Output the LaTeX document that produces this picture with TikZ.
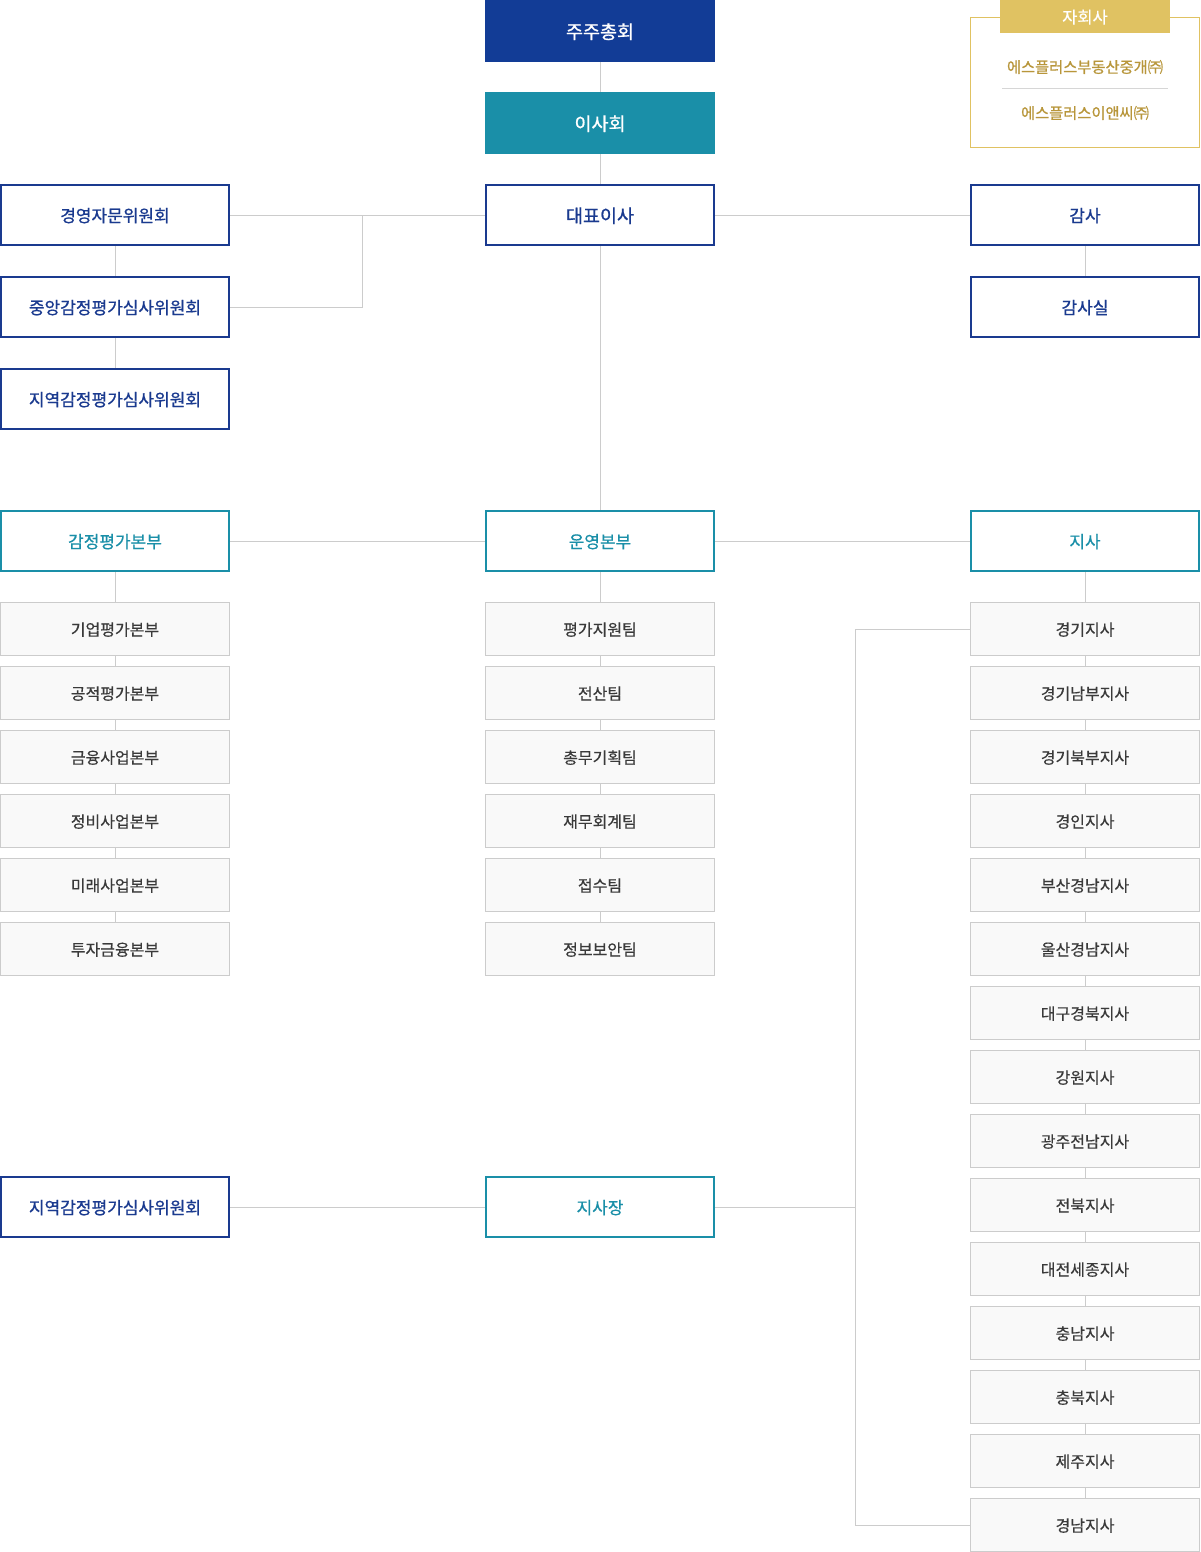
\documentclass[tikz,border=0pt]{standalone}
\usepackage{fontspec}
\setmainfont{Noto Sans CJK KR}
\newfontfamily\krA[FakeBold=0.9]{Noto Sans CJK KR}
\newfontfamily\krB[FakeBold=0.5]{Noto Sans CJK KR}
\usetikzlibrary{backgrounds}
\definecolor{navy}{HTML}{123C96}
\definecolor{bluetx}{HTML}{1A3A8F}
\definecolor{teal}{HTML}{1A8FA8}
\definecolor{gold}{HTML}{E0C262}
\definecolor{goldtx}{HTML}{B8963A}
\definecolor{lgray}{HTML}{CCCCCC}
\definecolor{subfill}{HTML}{F9F9F9}
\definecolor{subtx}{HTML}{3A3A3A}
\tikzset{
  base/.style={rectangle,inner sep=0pt,minimum width=228pt,minimum height=60pt,align=center,text depth=0pt},
  topfill/.style={base,minimum width=230pt,minimum height=62pt,text=white,font=\krA\fontsize{18.5}{20}\selectfont},
  bluebox/.style={base,draw=bluetx,line width=2pt,fill=white,text=bluetx,font=\krA\fontsize{17}{19}\selectfont},
  tealbox/.style={base,draw=teal,line width=2pt,fill=white,text=teal,font=\krB\fontsize{17}{19}\selectfont},
  subbox/.style={rectangle,inner sep=0pt,minimum width=229pt,minimum height=53pt,draw=lgray,line width=1pt,fill=subfill,text=subtx,text depth=0pt,font=\krB\fontsize{16}{18}\selectfont},
  goldtxt/.style={text=goldtx,font=\krA\fontsize{15.3}{17}\selectfont,inner sep=0pt},
  ln/.style={draw=lgray,line width=1pt},
}
\begin{document}
\begin{tikzpicture}[x=1pt,y=-1pt]
\useasboundingbox (0,0) rectangle (1200,1552);

% top column
\node[topfill,fill=navy] (gm) at (600,31) {주주총회};
\node[topfill,fill=teal] (bd) at (600,123) {이사회};
\node[bluebox,font=\krA\fontsize{18.5}{20}\selectfont] (ceo) at (600,215) {대표이사};

% left committees
\node[bluebox] (adv) at (115,215) {경영자문위원회};
\node[bluebox] (cen) at (115,307) {중앙감정평가심사위원회};
\node[bluebox] (reg) at (115,399) {지역감정평가심사위원회};
\coordinate (j1) at (362,215);

% audit
\node[bluebox] (aud) at (1085,215) {감사};
\node[bluebox] (audr) at (1085,307) {감사실};

% subsidiaries
\draw[draw=gold,line width=1pt] (970.5,17.5) rectangle (1199.5,147.5);
\node[rectangle,fill=gold,minimum width=170pt,minimum height=33pt,inner sep=0pt,text depth=0pt,text=white,font=\krB\fontsize{16.5}{18}\selectfont] (subh) at (1085,16.5) {자회사};
\node[goldtxt] (s1) at (1085,67) {에스플러스부동산중개㈜};
\node[goldtxt] (s2) at (1085,113) {에스플러스이앤씨㈜};
\coordinate (d1) at (1002,88.5);
\coordinate (d2) at (1168,88.5);
\draw[draw=lgray!80,line width=1pt] (d1) -- (d2);

% divisions
\node[tealbox] (ev) at (115,541) {감정평가본부};
\node[tealbox] (op) at (600,541) {운영본부};
\node[tealbox] (br) at (1085,541) {지사};

% left sub boxes
\foreach \t [count=\i] in {기업평가본부,공적평가본부,금융사업본부,정비사업본부,미래사업본부,투자금융본부}
  \node[subbox] (l\i) at (115,{629+64*(\i-1)}) {\t};
% middle sub boxes
\foreach \t [count=\i] in {평가지원팀,전산팀,총무기획팀,재무회계팀,접수팀,정보보안팀}
  \node[subbox] (m\i) at (600,{629+64*(\i-1)}) {\t};
% right sub boxes
\foreach \t [count=\i] in {경기지사,경기남부지사,경기북부지사,경인지사,부산경남지사,울산경남지사,대구경북지사,강원지사,광주전남지사,전북지사,대전세종지사,충남지사,충북지사,제주지사,경남지사}
  \node[subbox] (r\i) at (1085,{629+64*(\i-1)}) {\t};

% bottom
\node[bluebox] (reg2) at (115,1207) {지역감정평가심사위원회};
\node[tealbox] (mgr) at (600,1207) {지사장};
\coordinate (k0) at (855.5,1207);
\coordinate (k1) at (855.5,629);
\coordinate (k2) at (855.5,1525);

\begin{scope}[on background layer]
\fill[white] (0,0) rectangle (1200,1552);
\draw[ln] (gm) -- (bd);
\draw[ln] (bd) -- (ceo);
\draw[ln] (adv.east) -- (ceo.west);
\draw[ln] (cen.east) -| (j1);
\draw[ln] (adv) -- (cen);
\draw[ln] (cen) -- (reg);
\draw[ln] (ceo.east) -- (aud.west);
\draw[ln] (aud) -- (audr);
\draw[ln] (ceo) -- (op);
\draw[ln] (ev.east) -- (op.west);
\draw[ln] (op.east) -- (br.west);
\draw[ln] (ev) -- (l1);
\foreach \i [evaluate=\i as \j using int(\i+1)] in {1,...,5} \draw[ln] (l\i) -- (l\j);
\draw[ln] (op) -- (m1);
\foreach \i [evaluate=\i as \j using int(\i+1)] in {1,...,5} \draw[ln] (m\i) -- (m\j);
\draw[ln] (br) -- (r1);
\foreach \i [evaluate=\i as \j using int(\i+1)] in {1,...,14} \draw[ln] (r\i) -- (r\j);
\draw[ln] (reg2.east) -- (mgr.west);
\draw[ln] (mgr.east) -- (k0);
\draw[ln] (r1.west) -- (k1) -- (k2) -- (r15.west);
\end{scope}
\end{tikzpicture}
\end{document}
